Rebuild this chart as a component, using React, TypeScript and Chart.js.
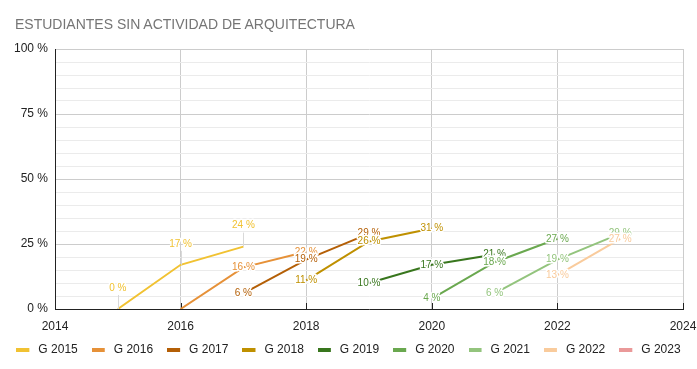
import React, { useEffect, useRef } from 'react';
import { Chart, registerables } from 'chart.js';

Chart.register(...registerables);

const TITLE = 'ESTUDIANTES SIN ACTIVIDAD DE ARQUITECTURA';
const FONT = '"Liberation Sans", Arial, sans-serif';

const seriesNames = ['G 2015', 'G 2016', 'G 2017', 'G 2018', 'G 2019', 'G 2020', 'G 2021', 'G 2022', 'G 2023'];
const seriesColors = ['#f1c232', '#e69138', '#b45f06', '#bf9000', '#38761d', '#6aa84f', '#93c47d', '#f9cb9c', '#ea9999'];

const g2015Years = [2015, 2016, 2017];
const g2015Values = [0, 17, 24];
const g2016Years = [2016, 2017, 2018];
const g2016Values = [0, 16, 22];
const g2017Years = [2017, 2018, 2019];
const g2017Values = [6, 19, 29];
const g2018Years = [2018, 2019, 2020];
const g2018Values = [11, 26, 31];
const g2019Years = [2019, 2020, 2021];
const g2019Values = [10, 17, 21];
const g2020Years = [2020, 2021, 2022];
const g2020Values = [4, 18, 27];
const g2021Years = [2021, 2022, 2023];
const g2021Values = [6, 19, 29];
const g2022Years = [2022, 2023];
const g2022Values = [13, 27];
const g2023Years: number[] = [];
const g2023Values: number[] = [];

const seriesYears = [g2015Years, g2016Years, g2017Years, g2018Years, g2019Years, g2020Years, g2021Years, g2022Years, g2023Years];
const seriesValues = [g2015Values, g2016Values, g2017Values, g2018Values, g2019Values, g2020Values, g2021Values, g2022Values, g2023Values];

// points whose value label is not shown in the original: [seriesIndex, pointIndex]
const unlabeledPoints = [[1, 0]];

const xTickValues = [2014, 2016, 2018, 2020, 2022, 2024];
const yMin = 0;
const yMax = 100;
const yStep = 5;
const yMajorStep = 25;

const innerTicksPlugin = {
  id: 'innerTicks',
  beforeDatasetsDraw(chart: any) {
    const ctx = chart.ctx;
    const xs = chart.scales.x;
    const bottom = chart.chartArea.bottom;
    ctx.save();
    ctx.strokeStyle = '#222222';
    ctx.lineWidth = 1;
    xTickValues.forEach((v) => {
      const px = Math.round(xs.getPixelForValue(v)) + 0.5;
      ctx.beginPath();
      ctx.moveTo(px, bottom - 6);
      ctx.lineTo(px, bottom + 1);
      ctx.stroke();
    });
    ctx.restore();
  },
};

const pointLabelsPlugin = {
  id: 'pointLabels',
  afterDatasetsDraw(chart: any) {
    const ctx = chart.ctx;
    ctx.save();
    ctx.font = '10px ' + FONT;
    ctx.textAlign = 'center';
    ctx.textBaseline = 'middle';
    ctx.lineJoin = 'round';
    chart.data.datasets.forEach((ds: any, di: number) => {
      const meta = chart.getDatasetMeta(di);
      meta.data.forEach((el: any, i: number) => {
        if (unlabeledPoints.some(([s, p]) => s === di && p === i)) return;
        const v = seriesValues[di][i];
        const x = el.x;
        let y = el.y;
        if (di === 0) {
          ctx.strokeStyle = '#d9d9d9';
          ctx.lineWidth = 1;
          const sx = Math.round(x) + 0.5;
          ctx.beginPath();
          ctx.moveTo(sx, y - 14);
          ctx.lineTo(sx, y);
          ctx.stroke();
          y -= 21;
        }
        const t = `${v} %`;
        ctx.lineWidth = 3;
        ctx.strokeStyle = '#ffffff';
        ctx.strokeText(t, x, y);
        ctx.fillStyle = seriesColors[di];
        ctx.fillText(t, x, y);
      });
    });
    ctx.restore();
  },
};

function makeSwatch(color: string) {
  const c = document.createElement('canvas');
  c.width = 16;
  c.height = 4;
  const g = c.getContext('2d')!;
  g.fillStyle = color;
  g.fillRect(0, 0, 13, 4);
  return c;
}

export default function App() {
  const canvasRef = useRef<HTMLCanvasElement | null>(null);

  useEffect(() => {
    document.body.style.margin = '0';
    const canvas = canvasRef.current;
    if (!canvas) return;
    const swatches = seriesColors.map(makeSwatch);

    const chart = new Chart(canvas, {
      type: 'line',
      data: {
        datasets: seriesNames.map((name, i) => ({
          label: name,
          data: seriesYears[i].map((yr, j) => ({ x: yr, y: seriesValues[i][j] })),
          borderColor: seriesColors[i],
          backgroundColor: seriesColors[i],
          borderWidth: 2,
          pointRadius: 0,
          pointHoverRadius: 0,
          tension: 0,
          fill: false,
        })),
      },
      options: {
        animation: false,
        responsive: false,
        devicePixelRatio: 1,
        layout: { padding: { top: 49, left: 0, right: 0, bottom: 3 } },
        plugins: {
          title: { display: false },
          tooltip: { enabled: false },
          legend: {
            display: true,
            position: 'bottom',
            align: 'center',
            labels: {
              usePointStyle: true,
              pointStyleWidth: 16,
              boxHeight: 4,
              padding: 14,
              color: '#222222',
              font: { family: FONT, size: 12 },
              generateLabels: (ch: any) =>
                ch.data.datasets.map((ds: any, i: number) => ({
                  text: ds.label,
                  fillStyle: seriesColors[i],
                  strokeStyle: seriesColors[i],
                  lineWidth: 0,
                  pointStyle: swatches[i],
                  hidden: false,
                  datasetIndex: i,
                  fontColor: '#222222',
                })),
            },
          },
        },
        scales: {
          x: {
            type: 'linear',
            min: xTickValues[0],
            max: xTickValues[xTickValues.length - 1],
            afterBuildTicks: (s: any) => {
              s.ticks = xTickValues.map((v) => ({ value: v }));
            },
            afterFit: (s: any) => {
              s.height = 21;
              s.paddingLeft = 0;
              s.paddingRight = 14;
            },
            ticks: {
              autoSkip: false,
              maxRotation: 0,
              padding: 10,
              color: '#222222',
              font: { family: FONT, size: 12 },
              callback: (v: any) => String(v),
            },
            grid: { color: '#cccccc', drawTicks: false, lineWidth: 1 },
            border: { display: true, color: '#222222', width: 1 },
          },
          y: {
            type: 'linear',
            min: yMin,
            max: yMax,
            afterFit: (s: any) => {
              s.width = 55;
              s.paddingTop = 0;
              s.paddingBottom = 0;
            },
            ticks: {
              stepSize: yStep,
              autoSkip: false,
              padding: 7,
              color: '#222222',
              font: { family: FONT, size: 12 },
              callback: (v: any) => (Number(v) % yMajorStep === 0 ? `${v} %` : ''),
            },
            grid: {
              drawTicks: false,
              color: (c: any) => (c.tick && c.tick.value % yMajorStep === 0 ? '#cccccc' : '#ebebeb'),
            },
            border: { display: true, color: '#222222', width: 1 },
          },
        },
      },
      plugins: [innerTicksPlugin, pointLabelsPlugin],
    } as any);

    return () => chart.destroy();
  }, []);

  return (
    <div style={{ position: 'relative', width: 697, height: 369, background: '#ffffff' }}>
      <canvas ref={canvasRef} width={697} height={369} style={{ width: 697, height: 369, display: 'block' }} />
      <div
        style={{
          position: 'absolute',
          left: 15,
          top: 16,
          font: `14px ${FONT}`,
          lineHeight: '16px',
          color: '#757575',
          whiteSpace: 'nowrap',
        }}
      >
        {TITLE}
      </div>
    </div>
  );
}
